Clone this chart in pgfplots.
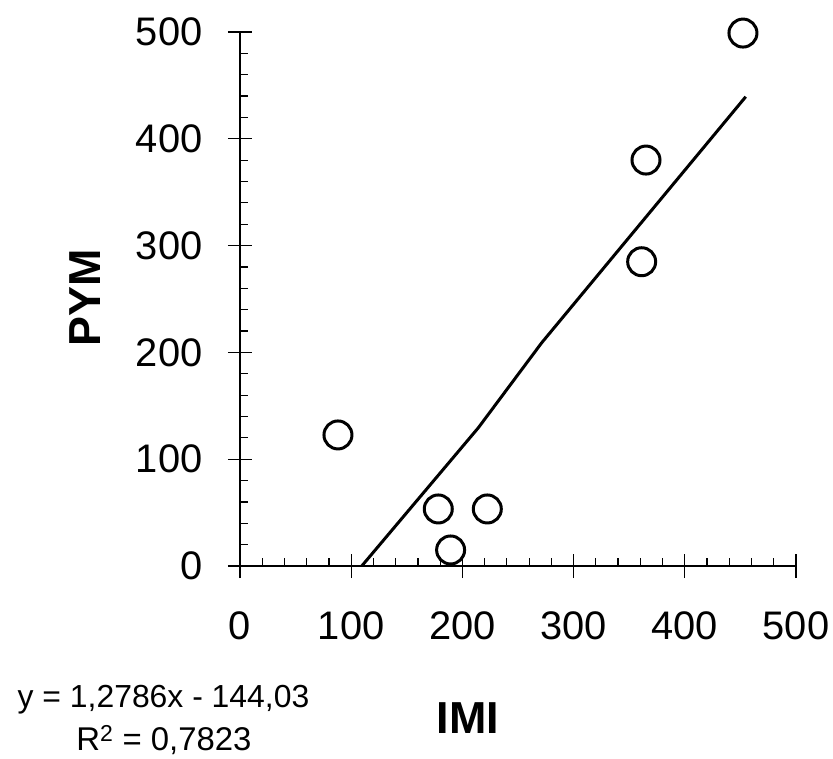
\documentclass[border=0pt]{standalone}
\usepackage{fontspec}
\setmainfont{Liberation Sans}
\usepackage{pgfplots}
\pgfplotsset{compat=1.18}
\begin{document}
\begin{tikzpicture}[x=1bp,y=1bp]
\useasboundingbox (-240,-193) rectangle (593,566);
\begin{axis}[
  at={(0,0)}, anchor=origin,
  scale only axis,
  width=556bp, height=534bp,
  xmin=0, xmax=500, ymin=0, ymax=500,
  axis x line*=bottom, axis y line*=left,
  axis line style={line width=1.2bp, black},
  xtick={0,100,...,500}, ytick={0,100,...,500},
  minor tick num=4,
  tick align=center,
  major tick length=24bp,
  minor tick length=8bp,
  tick style={line width=1.2bp, black},
  minor x tick style={yshift=4bp},
  minor y tick style={xshift=4bp},
  /pgf/number format/assume math mode=true,
  ticklabel style={font=\fontsize{40}{48}\selectfont},
  xticklabel style={yshift=-30bp},
  yticklabel style={xshift=-22bp},
  clip=false,
]
\addplot[black, line width=3bp, mark=none] coordinates {
  (109.5,0) (214.3,129.4) (271.3,209) (454.8,439.4)
};
\addplot[only marks, mark=o, mark size=14bp, mark options={line width=3bp, black}] coordinates {
  (88.1,122.7) (178.3,53.4) (189.4,15) (222.4,53.4) (361.2,284.9) (365.1,380.1) (452.3,499)
};
\end{axis}
\node[rotate=90, font=\fontsize{45}{54}\selectfont\bfseries] at (-155,268) {PYM};
\node[font=\fontsize{45}{54}\selectfont\bfseries] at (228,-152) {IMI};
\node[anchor=base, inner sep=0pt, font=\fontsize{32}{38}\selectfont] at (-76.5,-141) {y = 1,2786x - 144,03};
\node[anchor=base, inner sep=0pt, font=\fontsize{33}{40}\selectfont] at (-76,-184) {R\textsuperscript{2} = 0,7823};
\end{tikzpicture}
\end{document}
